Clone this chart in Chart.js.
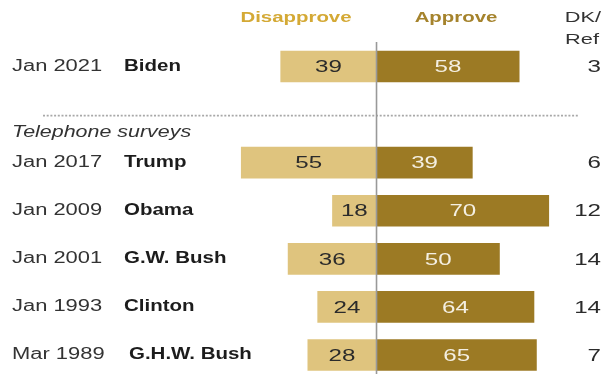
<!DOCTYPE html>
<html>
<head>
<meta charset="utf-8">
<script src="https://cdn.jsdelivr.net/npm/chart.js@4.4.1/dist/chart.umd.min.js"></script>
<style>
  html, body { margin: 0; padding: 0; background: #fff; }
  #wrap { width: 603px; height: 374px; position: relative; }
</style>
</head>
<body>
<div id="wrap"><canvas id="chart"></canvas></div>
<script>
// presidential job approval, first reading of each term
const dates = ['Jan 2021', 'Jan 2017', 'Jan 2009', 'Jan 2001', 'Jan 1993', 'Mar 1989'];
const presidents = ['Biden', 'Trump', 'Obama', 'G.W. Bush', 'Clinton', 'G.H.W. Bush'];
const disapprove = [39, 55, 18, 36, 24, 28];
const approve = [58, 39, 70, 50, 64, 65];
const dkRef = [3, 6, 12, 14, 14, 7];

const LIGHT = '#dfc47e';
const DARK = '#9c7a24';
const STRETCH = 1.36;   // wide glyphs, drawn squeezed fonts stretched out

// first row is the online survey, then a gap row before the phone surveys
const rowLabels = [presidents[0], ''].concat(presidents.slice(1));
const withGap = arr => [arr[0], null].concat(arr.slice(1));
const disData = withGap(disapprove.map(v => -v));
const appData = withGap(approve);
const rowSrc = [0, null, 1, 2, 3, 4, 5];

function text(ctx, str, x, y, font, color, align, sx) {
  sx = sx || STRETCH;
  ctx.save();
  ctx.font = font;
  ctx.fillStyle = color;
  ctx.textBaseline = 'middle';
  const w = ctx.measureText(str).width * sx;
  let left = x;
  if (align === 'center') left = x - w / 2;
  else if (align === 'right') left = x - w;
  ctx.translate(left, y);
  ctx.scale(sx, 1);
  ctx.textAlign = 'left';
  ctx.fillText(str, 0, 0);
  ctx.restore();
}

const decor = {
  id: 'decor',
  beforeDatasetsDraw(chart) {
    const ctx = chart.ctx;
    const ys = chart.scales.y;
    // dotted separator above the telephone surveys
    const sepY = ys.getPixelForValue(1) + 1;
    ctx.save();
    ctx.strokeStyle = '#a8a8a8';
    ctx.lineWidth = 1.6;
    ctx.setLineDash([2, 1.7]);
    ctx.beginPath();
    ctx.moveTo(43, sepY);
    ctx.lineTo(578, sepY);
    ctx.stroke();
    ctx.restore();
  },
  afterDatasetsDraw(chart) {
    const ctx = chart.ctx;
    const xs = chart.scales.x, ys = chart.scales.y;
    const zero = xs.getPixelForValue(0);

    // center axis
    ctx.save();
    ctx.strokeStyle = '#999';
    ctx.lineWidth = 1.6;
    ctx.beginPath();
    ctx.moveTo(zero, 42);
    ctx.lineTo(zero, 374);
    ctx.stroke();
    ctx.restore();

    // column headers
    text(ctx, 'Disapprove', 296, 18, 'bold 15px "Liberation Sans", Arial', '#d4a935', 'center');
    text(ctx, 'Approve', 456, 18, 'bold 15px "Liberation Sans", Arial', '#a5832c', 'center');
    text(ctx, 'DK/', 583, 18, '15px "Liberation Sans", Arial', '#333', 'center', 1.45);
    text(ctx, 'Ref', 582, 40, '15px "Liberation Sans", Arial', '#333', 'center', 1.45);

    text(ctx, 'Telephone surveys', 12, 133, 'italic 16px "Liberation Sans", Arial', '#333', 'left', 1.34);

    rowSrc.forEach((src, i) => {
      if (src === null) return;
      const y = ys.getPixelForValue(i);
      text(ctx, dates[src], 12, y, '16px "Liberation Sans", Arial', '#333', 'left', 1.37);
      const nameX = src === 5 ? 129 : 124;
      text(ctx, presidents[src], nameX, y, 'bold 16px "Liberation Sans", Arial', '#1c1c1c', 'left', 1.28);

      // values centered in each bar
      const dL = xs.getPixelForValue(-disapprove[src]);
      const aR = xs.getPixelForValue(approve[src]);
      text(ctx, String(disapprove[src]), (dL + zero) / 2, y + 1, '17px "Liberation Sans", Arial', '#2b2b2b', 'center', 1.42);
      text(ctx, String(approve[src]), (aR + zero) / 2, y + 1, '17px "Liberation Sans", Arial', '#f4efe2', 'center', 1.42);
      text(ctx, String(dkRef[src]), 601, y + 1, '17px "Liberation Sans", Arial', '#2b2b2b', 'right', 1.42);
    });
  }
};

new Chart(document.getElementById('chart'), {
  type: 'bar',
  data: {
    labels: rowLabels,
    datasets: [
      { label: 'Disapprove', data: disData, backgroundColor: LIGHT, clip: false },
      { label: 'Approve', data: appData, backgroundColor: DARK, clip: false }
    ]
  },
  options: {
    indexAxis: 'y',
    responsive: true,
    maintainAspectRatio: false,
    animation: false,
    events: [],
    layout: { padding: { left: 228.6, right: 4.6, top: 66.5, bottom: 19 } },
    datasets: { bar: { categoryPercentage: 1, barPercentage: 0.66 } },
    scales: {
      x: { stacked: true, min: -60, max: 90, display: false },
      y: { stacked: true, offset: false, display: false }
    },
    plugins: { legend: { display: false }, tooltip: { enabled: false } }
  },
  plugins: [decor]
});
</script>
</body>
</html>
